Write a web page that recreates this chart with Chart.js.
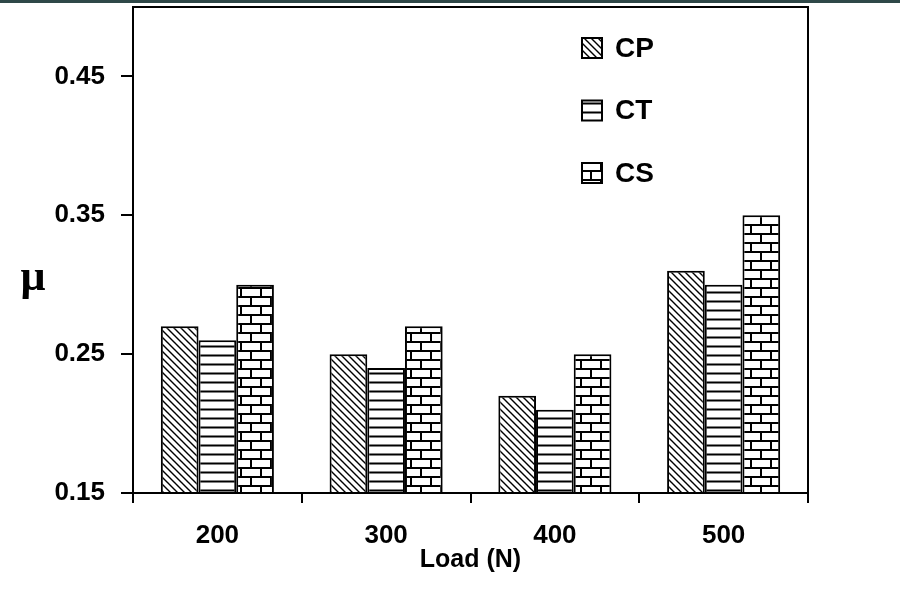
<!DOCTYPE html>
<html>
<head>
<meta charset="utf-8">
<script src="https://cdn.jsdelivr.net/npm/chart.js@4/dist/chart.umd.min.js"></script>
<style>
  html, body { margin: 0; padding: 0; background: #fff; }
  #wrap { position: relative; width: 900px; height: 592px; }
  #band { position: absolute; left: 0; top: 0; width: 900px; height: 3px; background: #2f4848; }
</style>
</head>
<body>
<div id="wrap">
  <canvas id="c" width="900" height="592"></canvas>
  <div id="band"></div>
</div>
<script>
// Friction coefficient per load for the three samples
const loads = ['200', '300', '400', '500'];
const seriesNames = ['CP', 'CT', 'CS'];
const cpValues = [0.27, 0.25, 0.22, 0.31];
const ctValues = [0.26, 0.24, 0.21, 0.30];
const csValues = [0.30, 0.27, 0.25, 0.35];
const yTicks = [0.15, 0.25, 0.35, 0.45];

const canvas = document.getElementById('c');
const ctx = canvas.getContext('2d');

function tile(w, h, draw) {
  const t = document.createElement('canvas');
  t.width = w; t.height = h;
  const g = t.getContext('2d');
  g.fillStyle = '#fff';
  g.fillRect(0, 0, w, h);
  g.strokeStyle = '#000';
  draw(g);
  return ctx.createPattern(t, 'repeat');
}

// back-slash hatching
const diagFill = tile(7, 7, g => {
  g.lineWidth = 1.4;
  g.beginPath();
  g.moveTo(-2, -2); g.lineTo(9, 9);
  g.moveTo(-2, 5); g.lineTo(2, 9);
  g.moveTo(5, -2); g.lineTo(9, 2);
  g.stroke();
});
// horizontal rules
const hFill = tile(9, 9, g => {
  g.lineWidth = 2;
  g.beginPath();
  g.moveTo(0, 4.5); g.lineTo(9, 4.5);
  g.stroke();
});
// brick bond
const brickFill = tile(20, 18, g => {
  g.lineWidth = 2;
  g.beginPath();
  g.moveTo(0, 0); g.lineTo(20, 0);
  g.moveTo(0, 9); g.lineTo(20, 9);
  g.moveTo(0, 18); g.lineTo(20, 18);
  g.moveTo(1, 0); g.lineTo(1, 9);
  g.moveTo(11, 9); g.lineTo(11, 18);
  g.stroke();
});

const fills = [diagFill, hFill, brickFill];
const values = [cpValues, ctValues, csValues];

const tickFont = { family: '"Liberation Sans", Arial, sans-serif', size: 26, weight: 'bold' };

// legend drawn as a column in the upper right of the plot
const sideLegend = {
  id: 'sideLegend',
  afterDraw(chart) {
    const c = chart.ctx;
    c.save();
    chart.data.datasets.forEach((ds, i) => {
      const y = 48 + i * 62.5;
      c.fillStyle = ds.backgroundColor;
      c.fillRect(582, y - 10, 20, 20);
      c.lineWidth = 2;
      c.strokeStyle = '#000';
      c.strokeRect(582, y - 10, 20, 20);
      c.fillStyle = '#000';
      c.font = 'bold 28px "Liberation Sans", Arial, sans-serif';
      c.textBaseline = 'middle';
      c.textAlign = 'left';
      c.fillText(ds.label, 615, y + 1);
    });
    // mu symbol beside the value axis
    c.font = 'bold 44px "Liberation Serif", "Times New Roman", serif';
    c.textAlign = 'center';
    c.textBaseline = 'alphabetic';
    c.fillText('\u03bc', 33, 290);
    // frame around the plot
    const a = chart.chartArea;
    c.lineWidth = 2;
    c.strokeRect(a.left, a.top, a.right - a.left, a.bottom - a.top);
    c.restore();
  }
};

new Chart(canvas, {
  type: 'bar',
  data: {
    labels: loads,
    datasets: seriesNames.map((name, i) => ({
      label: name,
      data: values[i],
      backgroundColor: fills[i],
      borderColor: '#000',
      borderWidth: 2,
      borderSkipped: 'bottom',
      categoryPercentage: 0.67,
      barPercentage: 1.0
    }))
  },
  options: {
    responsive: false,
    animation: false,
    layout: { padding: { top: 7, right: 92, left: 0, bottom: 0 } },
    plugins: {
      legend: { display: false },
      tooltip: { enabled: false }
    },
    scales: {
      x: {
        grid: {
          offset: true,
          drawOnChartArea: false,
          drawTicks: true,
          tickLength: 10,
          color: '#000',
          lineWidth: 2
        },
        border: { color: '#000', width: 2 },
        ticks: { color: '#000', font: tickFont, padding: 17, maxRotation: 0 },
        title: {
          display: true,
          text: 'Load (N)',
          color: '#000',
          font: { family: '"Liberation Sans", Arial, sans-serif', size: 25, weight: 'bold' },
          padding: { top: 0, bottom: 17 }
        },
        afterFit(s) { s.height = 99; s.paddingLeft = 0; s.paddingRight = 0; }
      },
      y: {
        min: 0.15,
        max: 0.5,
        afterBuildTicks(s) { s.ticks = yTicks.map(v => ({ value: v })); },
        grid: {
          drawOnChartArea: false,
          drawTicks: true,
          tickLength: 12,
          color: '#000',
          lineWidth: 2
        },
        border: { color: '#000', width: 2 },
        ticks: {
          color: '#000',
          font: tickFont,
          padding: 16,
          callback: v => Number(v).toFixed(2)
        },
        afterFit(s) { s.width = 133; s.paddingTop = 0; s.paddingBottom = 0; }
      }
    }
  },
  plugins: [sideLegend]
});
</script>
</body>
</html>
